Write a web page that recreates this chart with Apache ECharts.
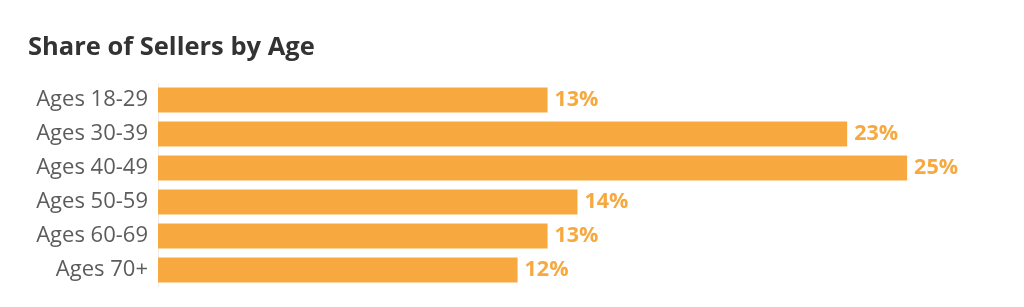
<!DOCTYPE html>
<html>
<head>
<meta charset="utf-8">
<script src="https://cdn.jsdelivr.net/npm/echarts@6/dist/echarts.min.js"></script>
<style>
html,body{margin:0;padding:0;background:#fff;}
#chart{width:1024px;height:307px;}
</style>
</head>
<body>
<div id="chart"></div>
<script>
var titleText = 'Share of Sellers by Age';
var categories = ['Ages 18-29', 'Ages 30-39', 'Ages 40-49', 'Ages 50-59', 'Ages 60-69', 'Ages 70+'];
var shares = [13, 23, 25, 14, 13, 12];

var chart = echarts.init(document.getElementById('chart'));
chart.setOption({
  backgroundColor: '#ffffff',
  animation: false,
  title: {
    text: titleText,
    left: 23,
    top: 30,
    padding: 5,
    textStyle: { fontFamily: 'Open Sans', fontWeight: 'bold', fontSize: 25.5, color: '#333333' }
  },
  grid: { left: 158, top: 83, width: 839, height: 204, containLabel: false },
  xAxis: {
    type: 'value', min: 0, max: 28,
    show: false
  },
  yAxis: {
    type: 'category',
    data: categories,
    inverse: true,
    axisLine: { show: true, lineStyle: { color: '#eeeeee', width: 1 } },
    axisTick: { show: false },
    axisLabel: { fontFamily: 'Open Sans', fontSize: 22, color: '#5c5c5c', margin: 10 }
  },
  series: [{
    type: 'bar',
    data: shares,
    barCategoryGap: '26%',
    itemStyle: { color: '#F7A93F' },
    label: {
      show: true, position: 'right', distance: 7,
      formatter: '{c}%',
      fontFamily: 'Open Sans', fontWeight: 'bold', fontSize: 21.5, color: '#F7A93F'
    }
  }]
});
</script>
</body>
</html>
